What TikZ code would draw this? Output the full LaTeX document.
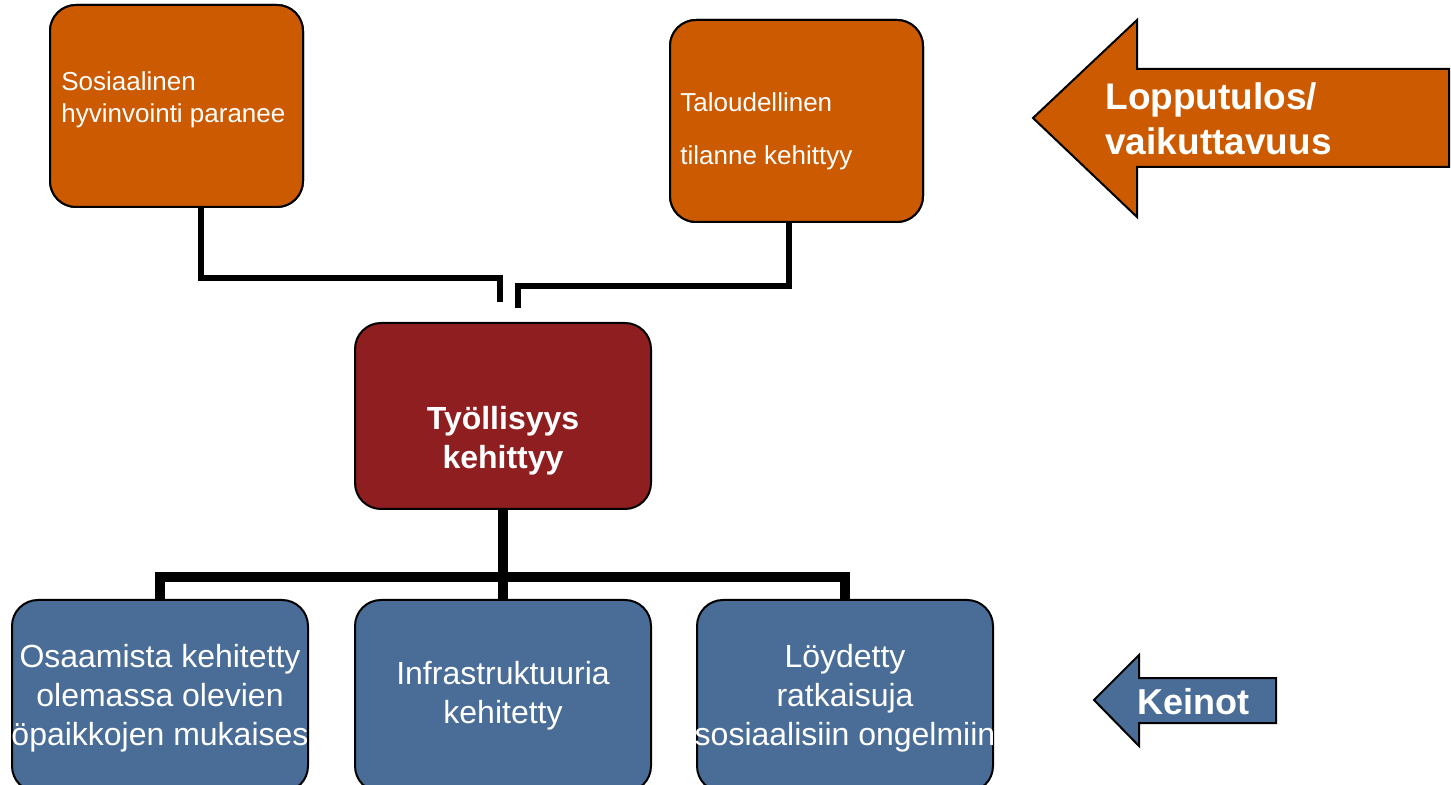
\documentclass[tikz,border=0pt]{standalone}
\usepackage{fontspec}
\setmainfont{Liberation Sans}
\usepackage{tikz}
\usetikzlibrary{calc}

\definecolor{tulos}{HTML}{CC5A00}
\definecolor{tyovari}{HTML}{8E1E20}
\definecolor{keino}{HTML}{4A6D98}

\tikzset{
	laatikko/.style={draw=black, line width=1pt, rounded corners=13pt, inner sep=0pt},
	ylalaatikko/.style={laatikko, fill=tulos, minimum width=126.5pt, minimum height=101pt},
	alalaatikko/.style={laatikko, fill=keino, minimum width=148pt, minimum height=96pt},
	valkoinen/.style={text=white, inner sep=0pt},
	alateksti/.style={valkoinen, align=center, font=\fontsize{16}{19.5}\selectfont},
	ylaviiva/.style={line width=3pt},
	alaviiva/.style={line width=5pt},
	nuoli/.style={draw=black, line width=1pt},
}

\begin{document}
\begin{tikzpicture}[x=0.5pt, y=-0.5pt]
			\clip (0,0) rectangle (1451,785);
			
			% lopputulos
			\node [ylalaatikko] (sos) at (176.5,106) {};
			\node [ylalaatikko] (tal) at (796.5,121) {};
			\coordinate (sosend) at (500,302);
			\coordinate (talend) at (518,308);
			
			\draw [ylaviiva] ($(sos.south)+(24.5,0)$) -- ++(0,70) -| (sosend);
			\draw [ylaviiva] ($(tal.south)+(-8,0)$) -- ++(0,63) -| (talend);
			\node [ylalaatikko] at (sos) {};
			\node [ylalaatikko] at (tal) {};
			
			\node [valkoinen, anchor=west, align=left, font=\fontsize{13}{16}\selectfont] (sostxt) at (61,100) {Sosiaalinen\\hyvinvointi paranee};
			\node [valkoinen, anchor=west, align=left, font=\fontsize{13}{26.5}\selectfont] (taltxt) at (680,131) {Taloudellinen\\tilanne kehittyy};
			
			% keinot
			\node [alalaatikko] (osa) at (160,696) {};
			\node [alalaatikko] (infra) at (503,696) {};
			\node [alalaatikko] (loy) at (845,696) {};
			\node [laatikko, fill=tyovari, minimum width=148pt, minimum height=93pt] (tyo) at (503,416) {};
			
			\draw [alaviiva] (tyo.south) -- (infra.north);
			\draw [alaviiva] (osa.north) -- ++(0,-22) -| (loy.north);
			
			\node [alateksti] (osatxt) at (160,698) {Osaamista kehitetty\\olemassa olevien\\öpaikkojen mukaises};
			\node [alateksti] (infratxt) at (503,696) {Infrastruktuuria\\kehitetty};
			\node [alateksti] (loytxt) at (845,698) {Löydetty\\ratkaisuja\\sosiaalisiin ongelmiin};
			\node [valkoinen, align=center, font=\bfseries\fontsize{16}{19.5}\selectfont] (tyotxt) at (503,441) {Työllisyys\\kehittyy};
			
			% nuolet
			\draw [nuoli, fill=tulos] (1033,118) -- (1137,20) -- (1137,69) -- (1449,69) -- (1449,167) -- (1137,167) -- (1137,217) -- cycle;
			\node [valkoinen, anchor=west, align=left, font=\bfseries\fontsize{18.5}{22.5}\selectfont] (tulostxt) at (1105,119) {Lopputulos/\\vaikuttavuus};
			
			\draw [nuoli, fill=keino] (1094,700) -- (1139,655) -- (1139,678) -- (1276,678) -- (1276,723) -- (1139,723) -- (1139,746) -- cycle;
			\node [valkoinen, font=\bfseries\fontsize{18}{22}\selectfont] (keinotxt) at (1193,702) {Keinot};
		\end{tikzpicture}
\end{document}
